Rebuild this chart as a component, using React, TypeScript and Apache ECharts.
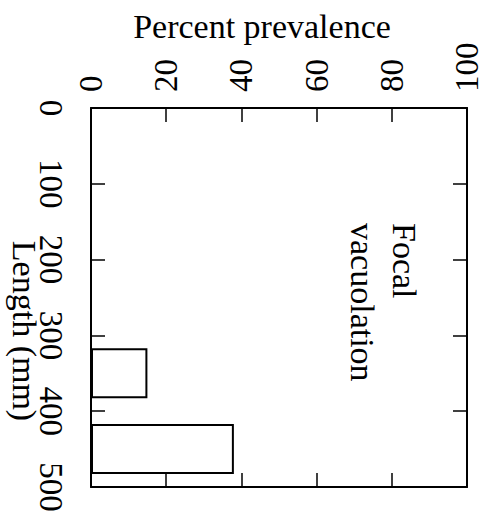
import React, { useEffect, useRef } from "react";
import * as echarts from "echarts";

const lengthBins = ["0-100", "100-200", "200-300", "300-400", "400-500"];
const prevalence: (number | null)[] = [null, null, null, 15, 38];
const percentTicks = { min: 0, max: 100, interval: 20 };
const lengthTicks = { min: 0, max: 500, interval: 100 };
const xTitle = "Percent prevalence";
const yTitle = "Length (mm)";
const panelLabel = "Focal\nvacuolation";

const FONT = "Liberation Serif";

export default function App() {
  const ref = useRef<HTMLDivElement>(null);
  useEffect(() => {
    document.body.style.margin = "0";
    if (!ref.current) return;
    const chart = echarts.init(ref.current, undefined, { renderer: "svg" });
    const line = { show: true, onZero: false, lineStyle: { color: "#000", width: 2 } };
    const tick = { show: true, inside: true, length: 14, lineStyle: { color: "#000", width: 1.5 } };
    chart.setOption({
      animation: false,
      backgroundColor: "#fff",
      grid: { left: 91, right: 19, top: 108, bottom: 30 },
      xAxis: [
        {
          type: "value",
          position: "top",
          ...percentTicks,
          axisLine: line,
          axisTick: tick,
          splitLine: { show: false },
          axisLabel: {
            rotate: -90,
            margin: 16,
            fontFamily: FONT,
            fontSize: 33,
            color: "#000",
          },
        },
        {
          type: "value",
          position: "bottom",
          ...percentTicks,
          axisLine: line,
          axisTick: tick,
          splitLine: { show: false },
          axisLabel: { show: false },
        },
      ],
      yAxis: [
        {
          type: "value",
          position: "left",
          inverse: true,
          ...lengthTicks,
          axisLine: line,
          axisTick: tick,
          splitLine: { show: false },
          axisLabel: {
            rotate: -90,
            margin: 24,
            fontFamily: FONT,
            fontSize: 33,
            color: "#000",
          },
        },
        {
          type: "value",
          position: "right",
          inverse: true,
          ...lengthTicks,
          axisLine: line,
          axisTick: tick,
          splitLine: { show: false },
          axisLabel: { show: false },
        },
        {
          type: "category",
          data: lengthBins,
          inverse: true,
          show: false,
        },
      ],
      series: [
        {
          type: "bar",
          xAxisIndex: 0,
          yAxisIndex: 2,
          data: prevalence.map((v) => (v === null ? "-" : v)),
          barCategoryGap: "34%",
          itemStyle: { color: "#fff", borderColor: "#000", borderWidth: 2 },
        },
      ],
      graphic: [
        {
          type: "text",
          x: 262,
          y: 26,
          style: {
            text: xTitle,
            fontFamily: FONT,
            fontSize: 34,
            fill: "#000",
            align: "center",
            verticalAlign: "middle",
          },
        },
        {
          type: "text",
          x: 24,
          y: 331,
          rotation: -Math.PI / 2,
          style: {
            text: yTitle,
            fontFamily: FONT,
            fontSize: 34,
            fill: "#000",
            align: "center",
            verticalAlign: "middle",
          },
        },
        {
          type: "text",
          x: 383,
          y: 223,
          rotation: -Math.PI / 2,
          style: {
            text: panelLabel,
            fontFamily: FONT,
            fontSize: 34,
            lineHeight: 42,
            fill: "#000",
            align: "left",
            verticalAlign: "middle",
          },
        },
      ],
    });
    return () => chart.dispose();
  }, []);
  return <div ref={ref} style={{ width: 486, height: 517 }} />;
}
